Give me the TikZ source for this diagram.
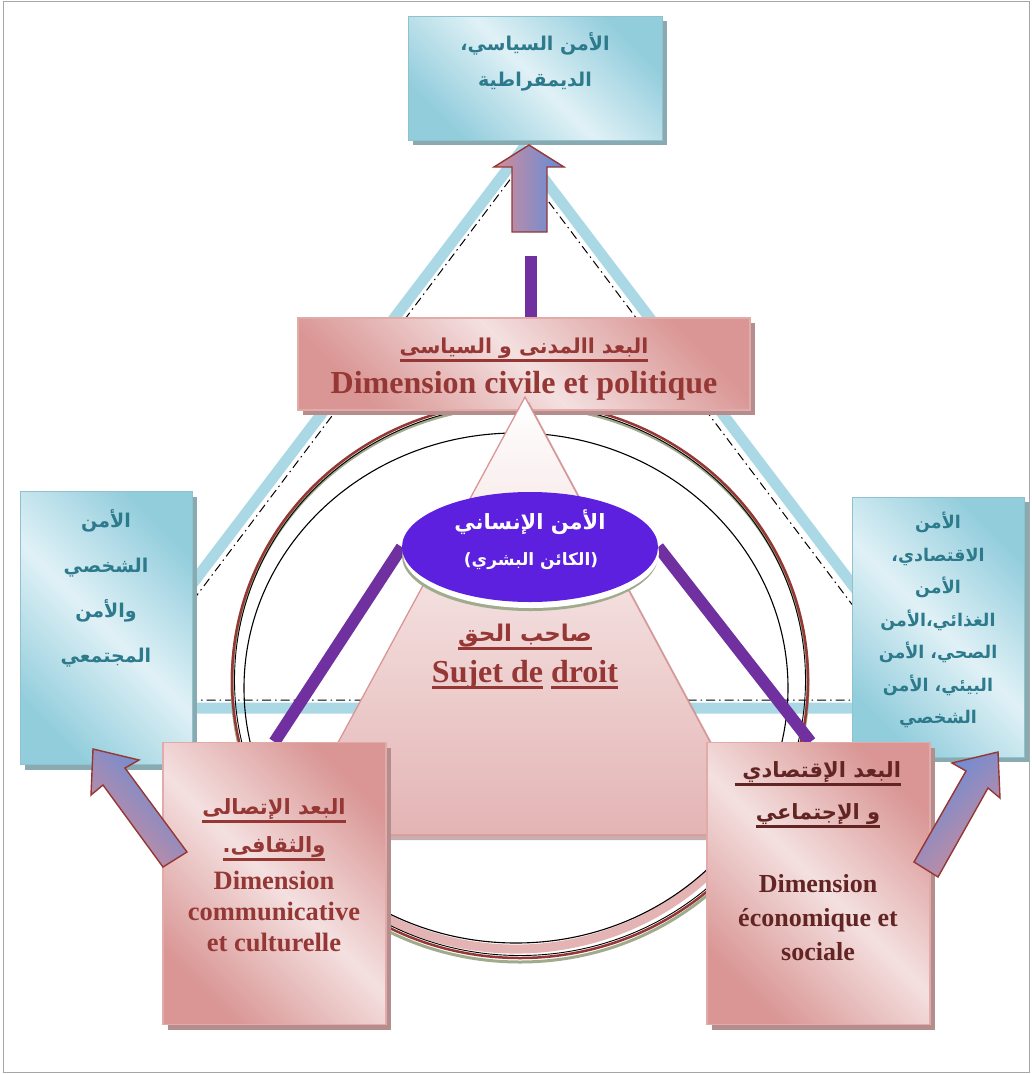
\documentclass[tikz,border=0pt]{standalone}
\usepackage{fontspec}
\setmainfont{Liberation Serif}
\newfontfamily\arabicfont[Script=Arabic]{DejaVu Sans}
\TeXXeTstate=1
\usetikzlibrary{shadows,shapes.geometric}

\definecolor{tealtext}{RGB}{44,122,140}
\definecolor{bluedark}{RGB}{146,205,220}
\definecolor{bluelight}{RGB}{224,241,246}
\definecolor{pinkdark}{RGB}{217,150,148}
\definecolor{pinklight}{RGB}{244,224,224}
\definecolor{pinktri}{RGB}{228,180,180}
\definecolor{redtext}{RGB}{149,55,53}
\definecolor{browntext}{RGB}{99,37,35}
\definecolor{violetline}{RGB}{112,48,160}
\definecolor{humanfill}{RGB}{92,32,222}
\definecolor{arrowpink}{RGB}{212,140,150}
\definecolor{arrowblue}{RGB}{96,140,222}
\definecolor{bandblue}{RGB}{170,217,229}
\definecolor{rimgreen}{RGB}{160,170,140}

\newcommand\ar[1]{{\arabicfont\bfseries\beginR #1\endR}}
\newcommand\ulin[2][7pt]{\setbox0\hbox{#2}\leavevmode\rlap{\rule[-#1]{\wd0}{3pt}}\box0\relax}

\pgfdeclarelayer{back}
\pgfdeclarelayer{mid}
\pgfsetlayers{back,mid,main}

\tikzset{
  bluebox/.style={draw=bluedark!85!gray, line width=0.6pt, top color=bluedark,
    bottom color=bluedark, middle color=bluelight, shading angle=-45, inner sep=0pt,
    drop shadow={shadow xshift=5pt, shadow yshift=-5pt, fill=bluedark!55!gray, opacity=1}},
  pinkbox/.style={draw=pinkdark!80!white, line width=1.2pt, top color=pinkdark,
    bottom color=pinkdark, middle color=pinklight, shading angle=-45, inner sep=0pt,
    drop shadow={shadow xshift=5pt, shadow yshift=-5pt, fill=pinkdark!60!gray, opacity=1}},
  bluetxt/.style={text=tealtext, align=center, inner sep=0pt},
  redtxt/.style={text=redtext, align=center, inner sep=0pt},
  browntxt/.style={text=browntext, align=center, inner sep=0pt},
  violetbar/.style={violetline, line width=12pt},
  fatarrow/.style={draw=redtext, line width=1.4pt, line join=miter},
}

\begin{document}
\begin{tikzpicture}[x=1pt,y=-1pt]
\useasboundingbox (0,0) rectangle (1032,1074);

% triangle and rings behind
\begin{pgfonlayer}{back}
  \draw[gray!70, line width=0.8pt] (3,1.5) rectangle (1029.5,1072);
  \draw[bandblue, line width=11pt] (522,150) -- (98,708) -- (946,708) -- cycle;
  \draw[dash pattern=on 9pt off 4pt on 1.5pt off 4pt, line width=1pt]
    (521,165) -- (118,700) -- (924,700) -- cycle;
  \draw[pinktri, line width=9pt] (516,694) ++(195:272pt and 255pt)
    arc[start angle=195, end angle=345, x radius=272pt, y radius=255pt];
  \draw[rimgreen, line width=3pt] (520,684) ellipse [x radius=288pt, y radius=278pt];
  \draw[redtext, line width=2.5pt] (520,680) ellipse [x radius=288pt, y radius=278pt];
  \draw[black, line width=0.9pt] (520,680) ellipse [x radius=285.5pt, y radius=275.5pt];
  \draw[black, line width=1.1pt] (516,688) ellipse [x radius=272pt, y radius=255pt];
\end{pgfonlayer}

% civil box and triangle
\node[pinkbox, minimum width=452pt, minimum height=92pt] (civbox) at (524,364) {};
\fill[pinkdark!55!gray, opacity=0.7] (529,402) -- (292,840) -- (764,840) -- cycle;
\draw[pinkdark, line width=1.3pt, top color=white, bottom color=pinktri]
  (525,397) -- (288,835) -- (760,835) -- cycle;

% human security
\fill[rimgreen] (530,556) ellipse [x radius=128pt, y radius=55pt];
\fill[white] (531,553) ellipse [x radius=128pt, y radius=55pt];
\node[ellipse, fill=humanfill, minimum width=256pt, minimum height=110pt, inner sep=0pt]
  (human) at (530,547) {};

% side boxes
\node[bluebox, minimum width=254pt, minimum height=124pt] (topbox) at (535,78) {};
\node[bluebox, minimum width=172pt, minimum height=273pt] (lbox) at (106,628) {};
\node[bluebox, minimum width=172pt, minimum height=260pt] (rbox) at (938,627) {};
\node[pinkbox, minimum width=223pt, minimum height=282pt] (clbox) at (274.5,883.5) {};
\node[pinkbox, minimum width=223pt, minimum height=282pt] (crbox) at (818.5,883.5) {};

% violet links
\coordinate (bartop) at (531,256);
\coordinate (barfoot) at (531,330);
\begin{pgfonlayer}{mid}
  \draw[violetbar] (bartop) -- (barfoot);
  \draw[violetbar] (human.west) -- (clbox.north);
  \draw[violetbar] (human.east) -- ([xshift=-8pt]crbox.north);
\end{pgfonlayer}

% arrows
\draw[fatarrow, left color=arrowpink, right color=arrowblue]
  (529,145) -- (564,167) -- (547,167) -- (547,232) -- (512,232) -- (512,167) -- (494,167) -- cycle;
\draw[fatarrow, top color=arrowblue, bottom color=arrowpink, shading angle=-45]
  (93,749) -- (139,760) -- (125,768) -- (187,852) -- (163,867) -- (103,785) -- (91,795) -- cycle;
\draw[fatarrow, top color=arrowblue, bottom color=arrowpink, shading angle=45]
  (998,752) -- (952,763) -- (966,771) -- (914,862) -- (938,877) -- (988,788) -- (1000,798) -- cycle;

% texts
\node[bluetxt, font=\fontsize{19}{36}\selectfont] (toptext) at (535,62)
  {\ar{الأمن السياسي،}\\\ar{الديمقراطية}};
\node[redtxt, font=\fontsize{20.5}{30}\selectfont] (civar) at (524,350)
  {\ulin[8pt]{\ar{البعد االمدنى و السياسى}}};
\node[redtxt, font=\bfseries\fontsize{32}{36}\selectfont] (civfr) at (524,386)
  {Dimension civile et politique};
\node[text=white, align=center, inner sep=0pt, font=\fontsize{21}{30}\selectfont] (humar) at (530,522)
  {\ar{الأمن الإنساني}};
\node[text=white, align=center, inner sep=0pt, font=\fontsize{17}{30}\selectfont] (humsub) at (531,561)
  {\ar{(الكائن البشري)}};
\node[redtxt, font=\fontsize{23}{30}\selectfont] (sujar) at (525,637)
  {\ulin[8pt]{\ar{صاحب الحق}}};
\node[redtxt, font=\bfseries\fontsize{32}{36}\selectfont] (sujfr) at (525,675)
  {\ulin[6pt]{Sujet de} \ulin[6pt]{droit}};
\node[bluetxt, font=\fontsize{19}{45}\selectfont] (ltext) at (106,588)
  {\ar{الأمن}\\\ar{الشخصي}\\\ar{والأمن}\\\ar{المجتمعي}};
\node[bluetxt, font=\fontsize{17.5}{32.5}\selectfont] (rtext) at (938,620)
  {\ar{الأمن}\\\ar{الاقتصادي،}\\\ar{الأمن}\\\ar{الغذائي،الأمن}\\\ar{الصحي، الأمن}\\\ar{البيئي، الأمن}\\\ar{الشخصي}};
\node[redtxt, font=\fontsize{21}{38}\selectfont] (clar) at (274,830)
  {\ulin[8pt]{\ar{البعد الإتصالى}}\\\ulin[8pt]{\ar{والثقافى.}}};
\node[redtxt, font=\bfseries\fontsize{26.5}{31}\selectfont] (clfr) at (274,911)
  {Dimension\\communicative\\et culturelle};
\node[browntxt, font=\fontsize{21}{42}\selectfont] (crar) at (818,795)
  {\ulin[8pt]{\ar{البعد الإقتصادي }}\\\ulin[8pt]{\ar{و الإجتماعي}}};
\node[browntxt, font=\bfseries\fontsize{26}{34}\selectfont] (crfr) at (818,918)
  {Dimension\\économique et\\sociale};
\end{tikzpicture}
\end{document}
